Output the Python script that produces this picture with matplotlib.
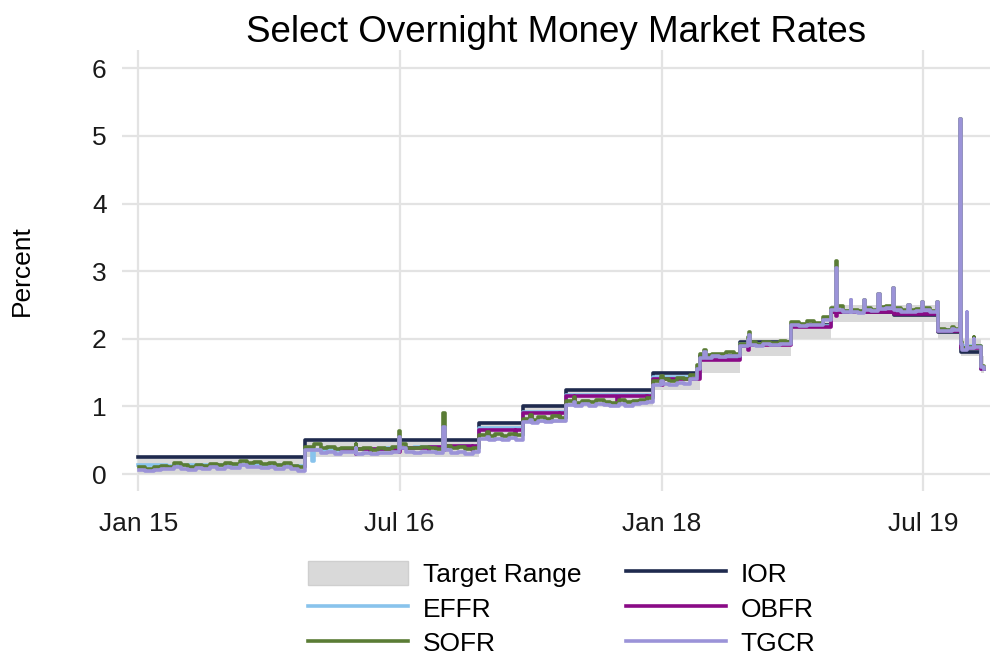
import matplotlib
matplotlib.use("Agg")
import matplotlib.pyplot as plt
import matplotlib.dates as mdates
from matplotlib.patches import Patch
from matplotlib.lines import Line2D
import pandas as pd

plt.rcParams['font.family'] = ['Liberation Sans', 'DejaVu Sans']

# Policy rates (change dates of the target range and IOR)
policy_dates = ["2015-01-01", "2015-12-17", "2016-12-15", "2017-03-16", "2017-06-15",
                "2017-12-14", "2018-03-22", "2018-06-14", "2018-09-27", "2018-12-20",
                "2019-05-02", "2019-08-01", "2019-09-19", "2019-10-31", "2019-11-06"]
target_low = [0.00, 0.25, 0.50, 0.75, 1.00, 1.25, 1.50, 1.75, 2.00, 2.25,
              2.25, 2.00, 1.75, 1.50, 1.50]
target_high = [0.25, 0.50, 0.75, 1.00, 1.25, 1.50, 1.75, 2.00, 2.25, 2.50,
               2.50, 2.25, 2.00, 1.75, 1.75]
ior = [0.25, 0.50, 0.75, 1.00, 1.25, 1.50, 1.75, 1.95, 2.20, 2.40,
       2.35, 2.10, 1.80, 1.55, 1.55]

# Effective federal funds rate
effr_dates = ["2015-01-01", "2015-03-02", "2015-04-01", "2015-07-01", "2015-10-01",
              "2015-11-02", "2015-12-17", "2015-12-31", "2016-01-04", "2016-03-01",
              "2016-06-01", "2016-08-01", "2016-11-01", "2016-12-15", "2017-03-16",
              "2017-06-15", "2017-12-14", "2018-03-22", "2018-06-14", "2018-09-27",
              "2018-12-20", "2019-05-02", "2019-06-03", "2019-08-01", "2019-09-17",
              "2019-09-18", "2019-09-19", "2019-10-31", "2019-11-06"]
effr = [0.14, 0.12, 0.13, 0.14, 0.13,
        0.12, 0.37, 0.20, 0.36, 0.37,
        0.38, 0.40, 0.41, 0.68, 0.92,
        1.17, 1.43, 1.70, 1.92, 2.19,
        2.41, 2.39, 2.38, 2.13, 2.30,
        2.25, 1.90, 1.55, 1.55]

# Overnight bank funding rate
obfr_dates = ["2016-03-01", "2016-03-31", "2016-04-01", "2016-04-29", "2016-05-02",
              "2016-06-30", "2016-07-01", "2016-08-31", "2016-09-01", "2016-09-30",
              "2016-10-03", "2016-11-30", "2016-12-01", "2016-12-15", "2016-12-30",
              "2017-01-03", "2017-02-28", "2017-03-01", "2017-03-16", "2017-03-31",
              "2017-04-03", "2017-05-31", "2017-06-01", "2017-06-15", "2017-06-30",
              "2017-07-03", "2017-09-29", "2017-10-02", "2017-11-30", "2017-12-01",
              "2017-12-14", "2017-12-29", "2018-01-02", "2018-03-22", "2018-06-14",
              "2018-06-29", "2018-07-02", "2018-09-27", "2018-12-20", "2018-12-31",
              "2019-01-02", "2019-05-02", "2019-08-01", "2019-09-17", "2019-09-19",
              "2019-10-31", "2019-11-06"]
obfr = [0.37, 0.30, 0.37, 0.33, 0.37,
        0.33, 0.39, 0.34, 0.40, 0.35,
        0.41, 0.36, 0.41, 0.65, 0.55,
        0.65, 0.58, 0.65, 0.90, 0.80,
        0.90, 0.84, 0.90, 1.15, 1.05,
        1.15, 1.05, 1.15, 1.08, 1.15,
        1.41, 1.32, 1.41, 1.68, 1.90,
        1.84, 1.91, 2.18, 2.39, 2.34,
        2.39, 2.37, 2.11, 2.25, 1.86,
        1.55, 1.55]

# Secured overnight financing rate and tri-party general collateral rate
repo_dates = ["2015-01-02", "2015-01-16", "2015-02-02", "2015-02-17", "2015-03-02",
              "2015-03-16", "2015-04-01", "2015-04-15", "2015-05-01", "2015-05-15",
              "2015-06-01", "2015-06-15", "2015-07-01", "2015-07-15", "2015-08-03",
              "2015-08-17", "2015-09-01", "2015-09-15", "2015-10-01", "2015-10-15",
              "2015-11-02", "2015-11-16", "2015-12-01", "2015-12-17", "2016-01-04",
              "2016-01-19", "2016-02-01", "2016-02-16", "2016-03-01", "2016-03-31",
              "2016-04-01", "2016-04-15", "2016-05-02", "2016-05-16", "2016-06-01",
              "2016-06-15", "2016-06-29", "2016-06-30", "2016-07-01", "2016-07-15",
              "2016-08-01", "2016-08-15", "2016-09-01", "2016-09-15", "2016-09-30",
              "2016-10-03", "2016-10-17", "2016-11-01", "2016-11-15", "2016-12-01",
              "2016-12-15", "2016-12-30", "2017-01-03", "2017-01-17", "2017-02-01",
              "2017-02-15", "2017-03-01", "2017-03-16", "2017-03-31", "2017-04-03",
              "2017-04-17", "2017-05-01", "2017-05-15", "2017-06-01", "2017-06-15",
              "2017-06-30", "2017-07-03", "2017-07-17", "2017-08-01", "2017-08-15",
              "2017-09-01", "2017-09-15", "2017-10-02", "2017-10-16", "2017-11-01",
              "2017-11-15", "2017-12-01", "2017-12-14", "2017-12-29", "2018-01-02",
              "2018-01-16", "2018-02-01", "2018-02-15", "2018-03-01", "2018-03-15",
              "2018-03-22", "2018-03-29", "2018-04-02", "2018-04-16", "2018-05-01",
              "2018-05-15", "2018-06-01", "2018-06-14", "2018-06-29", "2018-07-02",
              "2018-07-03", "2018-07-16", "2018-08-01", "2018-08-15", "2018-09-04",
              "2018-09-17", "2018-09-27", "2018-10-15", "2018-11-01", "2018-11-15",
              "2018-12-03", "2018-12-20", "2018-12-31", "2019-01-02", "2019-01-15",
              "2019-01-31", "2019-02-01", "2019-02-15", "2019-02-28", "2019-03-01",
              "2019-03-15", "2019-03-29", "2019-04-01", "2019-04-15", "2019-04-30",
              "2019-05-01", "2019-05-15", "2019-05-31", "2019-06-03", "2019-06-17",
              "2019-06-28", "2019-07-02", "2019-07-15", "2019-07-31", "2019-08-01",
              "2019-08-15", "2019-08-30", "2019-09-03", "2019-09-16", "2019-09-17",
              "2019-09-18", "2019-09-19", "2019-09-20", "2019-09-30", "2019-10-01",
              "2019-10-15", "2019-10-16", "2019-10-31", "2019-11-06"]
sofr = [0.10, 0.08, 0.10, 0.12, 0.11,
        0.16, 0.13, 0.11, 0.14, 0.12,
        0.15, 0.13, 0.17, 0.15, 0.20,
        0.16, 0.18, 0.15, 0.17, 0.14,
        0.16, 0.12, 0.10, 0.40, 0.44,
        0.38, 0.40, 0.37, 0.39, 0.45,
        0.37, 0.39, 0.36, 0.38, 0.37,
        0.40, 0.50, 0.64, 0.45, 0.39,
        0.38, 0.40, 0.39, 0.37, 0.90,
        0.42, 0.38, 0.40, 0.37, 0.39,
        0.58, 0.62, 0.56, 0.59, 0.57,
        0.60, 0.58, 0.82, 0.88, 0.80,
        0.84, 0.81, 0.86, 0.83, 1.08,
        1.14, 1.05, 1.08, 1.06, 1.10,
        1.07, 1.05, 1.09, 1.06, 1.08,
        1.10, 1.12, 1.38, 1.45, 1.40,
        1.37, 1.42, 1.40, 1.46, 1.62,
        1.78, 1.84, 1.76, 1.78, 1.77,
        1.80, 1.78, 1.93, 2.02, 2.10,
        1.95, 1.93, 1.96, 1.94, 1.97,
        1.96, 2.25, 2.22, 2.26, 2.24,
        2.32, 2.46, 3.15, 2.48, 2.41,
        2.58, 2.42, 2.41, 2.58, 2.45,
        2.43, 2.67, 2.47, 2.48, 2.75,
        2.45, 2.43, 2.50, 2.42, 2.44,
        2.55, 2.45, 2.41, 2.55, 2.14,
        2.13, 2.18, 2.15, 2.43, 5.25,
        2.55, 1.95, 1.86, 2.35, 1.88,
        2.02, 1.90, 1.60, 1.58]
tgcr = [0.06, 0.05, 0.06, 0.08, 0.07,
        0.10, 0.08, 0.06, 0.09, 0.07,
        0.10, 0.08, 0.11, 0.09, 0.13,
        0.10, 0.11, 0.09, 0.11, 0.08,
        0.10, 0.07, 0.05, 0.35, 0.36,
        0.31, 0.33, 0.30, 0.32, 0.38,
        0.30, 0.31, 0.29, 0.31, 0.31,
        0.33, 0.42, 0.55, 0.38, 0.32,
        0.31, 0.33, 0.32, 0.31, 0.70,
        0.35, 0.31, 0.33, 0.30, 0.32,
        0.52, 0.55, 0.50, 0.52, 0.51,
        0.53, 0.50, 0.77, 0.80, 0.76,
        0.78, 0.77, 0.79, 0.78, 1.02,
        1.06, 1.01, 1.03, 1.01, 1.04,
        1.02, 1.00, 1.03, 1.01, 1.03,
        1.05, 1.06, 1.32, 1.38, 1.33,
        1.31, 1.35, 1.33, 1.40, 1.55,
        1.72, 1.80, 1.72, 1.74, 1.73,
        1.75, 1.74, 1.90, 1.98, 2.05,
        1.91, 1.90, 1.92, 1.91, 1.93,
        1.92, 2.20, 2.19, 2.21, 2.20,
        2.28, 2.42, 3.05, 2.42, 2.39,
        2.58, 2.39, 2.38, 2.58, 2.42,
        2.41, 2.67, 2.44, 2.45, 2.75,
        2.43, 2.40, 2.50, 2.39, 2.41,
        2.55, 2.42, 2.39, 2.55, 2.12,
        2.11, 2.15, 2.13, 2.40, 5.25,
        2.50, 1.92, 1.84, 2.39, 1.86,
        2.00, 1.88, 1.58, 1.56]

x_ticks = ["2015-01-01", "2016-07-01", "2018-01-01", "2019-07-01"]

fig = plt.figure(figsize=(9.94, 6.63), dpi=100)
ax = fig.add_axes([0.1227, 0.2594, 0.8732, 0.6652])

pd_policy = pd.to_datetime(policy_dates)
ax.fill_between(pd_policy, target_low, target_high, step='post',
                color='#d9d9d9', linewidth=0, zorder=1)

lw = 2.6
ax.plot(pd_policy, ior, drawstyle='steps-post', color='#1f2a4e', lw=lw, zorder=2)
ax.plot(pd.to_datetime(effr_dates), effr, drawstyle='steps-post', color='#88c3ec', lw=lw, zorder=3)
ax.plot(pd.to_datetime(obfr_dates), obfr, drawstyle='steps-post', color='#8a0a86', lw=lw, zorder=4)
ax.plot(pd.to_datetime(repo_dates), sofr, drawstyle='steps-post', color='#5a7c35', lw=lw, zorder=5)
ax.plot(pd.to_datetime(repo_dates), tgcr, drawstyle='steps-post', color='#9b93d8', lw=lw, zorder=6)

ax.set_xlim(pd.Timestamp("2014-11-28"), pd.Timestamp("2019-11-18"))
ax.set_ylim(-0.25, 6.27)
ax.set_yticks(range(0, 7))
ax.set_xticks(pd.to_datetime(x_ticks))
ax.xaxis.set_major_formatter(mdates.DateFormatter('%b %y'))
ax.tick_params(axis='both', length=0, labelsize=19, colors='#1a1a1a')
ax.tick_params(axis='y', pad=11)
ax.tick_params(axis='x', pad=15)
ax.grid(True, color='#e3e3e3', linewidth=1.6)
ax.set_axisbelow(True)
for s in ax.spines.values():
    s.set_visible(False)

ax.set_title('Select Overnight Money Market Rates', fontsize=26.5, pad=5)
fig.text(22 / 994, 0.592, 'Percent', rotation=90, va='center', ha='center', fontsize=19)

handles = [
    Patch(facecolor='#d9d9d9', edgecolor='#cfcfcf', label='Target Range'),
    Line2D([], [], color='#88c3ec', lw=lw, label='EFFR'),
    Line2D([], [], color='#5a7c35', lw=lw, label='SOFR'),
    Line2D([], [], color='#1f2a4e', lw=lw, label='IOR'),
    Line2D([], [], color='#8a0a86', lw=lw, label='OBFR'),
    Line2D([], [], color='#9b93d8', lw=lw, label='TGCR'),
]
fig.legend(handles=handles, ncol=2, loc='center', bbox_to_anchor=(0.565, 0.082),
           frameon=False, fontsize=19, handlelength=3.8, handleheight=1.0,
           handletextpad=0.55, columnspacing=1.7, labelspacing=0.34,
           borderpad=0.2)

fig.savefig('out.png', dpi=100)
